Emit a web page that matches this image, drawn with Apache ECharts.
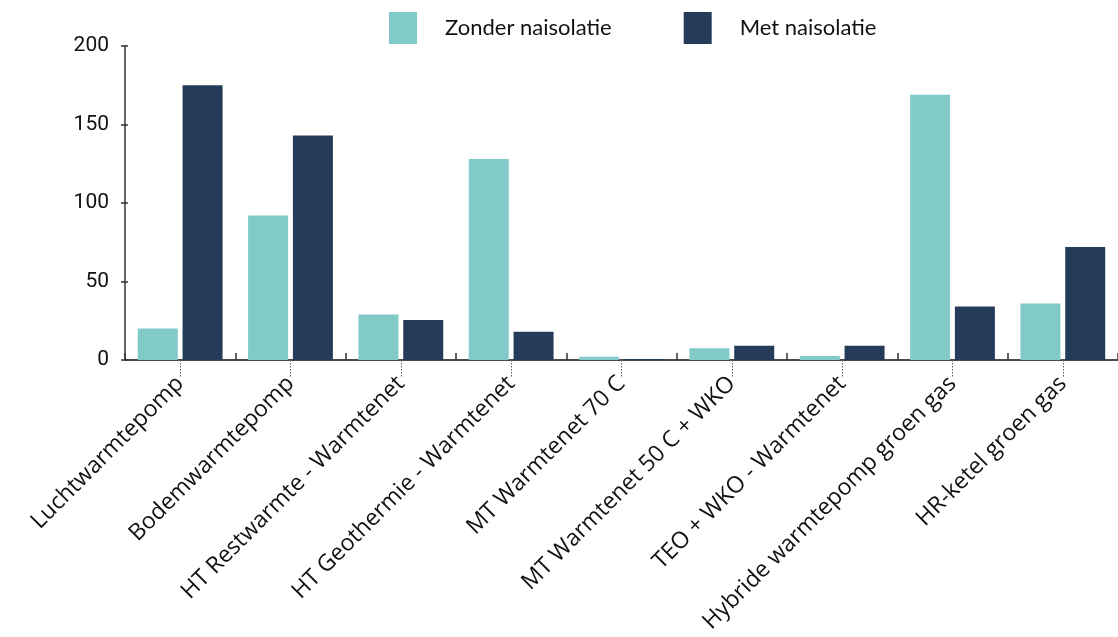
<!DOCTYPE html>
<html>
<head>
<meta charset="utf-8">
<script src="https://cdn.jsdelivr.net/npm/echarts@6/dist/echarts.min.js"></script>
<style>
  html, body { margin: 0; padding: 0; background: #fff; }
  #chart { width: 1118px; height: 637px; }
</style>
</head>
<body>
<div id="chart"></div>
<script>
// Heating options and the two insulation scenarios
const categories = [
  'Luchtwarmtepomp',
  'Bodemwarmtepomp',
  'HT Restwarmte - Warmtenet',
  'HT Geothermie - Warmtenet',
  'MT Warmtenet 70 C',
  'MT Warmtenet 50 C + WKO',
  'TEO + WKO - Warmtenet',
  'Hybride warmtepomp groen gas',
  'HR-ketel groen gas'
];
const zonderNaisolatie = [20, 92, 29, 128, 2, 7.5, 2.5, 169, 36];
const metNaisolatie = [175, 143, 25.5, 18, 0.6, 9, 9, 34, 72];
const seriesNames = ['Zonder naisolatie', 'Met naisolatie'];
const yTicks = { min: 0, max: 200, interval: 50 };

const TEAL = '#82cac8';
const NAVY = '#243c5a';

const chart = echarts.init(document.getElementById('chart'), null, { renderer: 'canvas' });

chart.setOption({
  animation: false,
  backgroundColor: '#ffffff',
  legend: {
    data: seriesNames,
    left: 384,
    top: 7,
    itemWidth: 28,
    itemHeight: 32,
    itemGap: 72,
    icon: 'rect',
    textStyle: {
      fontFamily: 'Lato, sans-serif',
      fontSize: 22,
      color: '#111',
      padding: [0, 0, 0, 23]
    }
  },
  grid: {
    left: 125,
    top: 46,
    width: 996,
    bottom: 277,
    containLabel: false
  },
  xAxis: [
    {
      // boundary ticks and axis line
      type: 'category',
      data: categories,
      position: 'bottom',
      axisLine: { show: true, lineStyle: { color: '#111', width: 1.5 } },
      axisTick: { show: true, interval: 0, inside: true, length: 7, lineStyle: { color: '#333', width: 1.5 } },
      axisLabel: { show: false },
      splitLine: { show: false }
    },
    {
      // dotted leaders and rotated category names
      type: 'category',
      data: categories,
      position: 'bottom',
      axisLine: { show: false },
      axisTick: {
        show: true,
        interval: 0,
        alignWithLabel: true,
        length: 18,
        lineStyle: { color: '#555', width: 1, type: [1.5, 1.5] }
      },
      axisLabel: {
        show: true,
        rotate: 45,
        margin: 20,
        interval: 0,
        fontFamily: '"Open Sans", sans-serif',
        fontSize: 23,
        color: '#111'
      },
      splitLine: { show: false }
    }
  ],
  yAxis: [
    {
      type: 'value',
      position: 'left',
      min: yTicks.min,
      max: yTicks.max,
      interval: yTicks.interval,
      axisLine: { show: true, lineStyle: { color: '#333', width: 1.5 } },
      axisTick: { show: true, length: 4, lineStyle: { color: '#333', width: 1.5 } },
      axisLabel: {
        margin: 16,
        fontFamily: 'Roboto, sans-serif',
        fontSize: 21,
        color: '#111'
      },
      splitLine: { show: false }
    },
    {
      // inner half of the value ticks
      type: 'value',
      position: 'left',
      offset: 0,
      min: yTicks.min,
      max: yTicks.max,
      interval: yTicks.interval,
      axisLine: { show: false },
      axisTick: { show: true, inside: true, length: 3, lineStyle: { color: '#333', width: 1.5 } },
      axisLabel: { show: false },
      splitLine: { show: false }
    }
  ],
  series: [
    {
      name: seriesNames[0],
      type: 'bar',
      xAxisIndex: 0,
      yAxisIndex: 0,
      data: zonderNaisolatie,
      barWidth: 40,
      barGap: '12%',
      itemStyle: { color: TEAL }
    },
    {
      name: seriesNames[1],
      type: 'bar',
      xAxisIndex: 0,
      yAxisIndex: 0,
      data: metNaisolatie,
      barWidth: 40,
      barGap: '12%',
      itemStyle: { color: NAVY }
    }
  ]
});
</script>
</body>
</html>
